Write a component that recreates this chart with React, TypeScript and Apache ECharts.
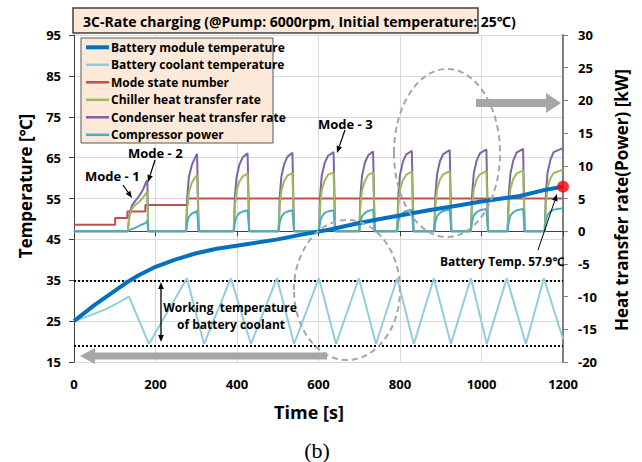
import React, { useEffect, useRef } from "react";
import * as echarts from "echarts";

// ---------- data ----------
const timeTicks = [0, 200, 400, 600, 800, 1000, 1200];
const tempTicks = [15, 25, 35, 45, 55, 65, 75, 85, 95];
const powerTicks = [-20, -15, -10, -5, 0, 5, 10, 15, 20, 25, 30];

const seriesNames = [
  "Battery module temperature",
  "Battery coolant temperature",
  "Mode state number",
  "Chiller heat transfer rate",
  "Condenser heat transfer rate",
  "Compressor power",
];
const seriesColors = ["#0070c0", "#92cddc", "#c0504d", "#9bbb59", "#8064a2", "#4bacc6"];

const batteryModuleTemp: [number, number][] = [
  [0, 25], [50, 28.9], [100, 32.4], [130, 34.5], [160, 36.3], [200, 38.3], [250, 40.1],
  [300, 41.6], [350, 42.7], [415, 43.7], [500, 45.0], [555, 46.1], [628, 47.4], [700, 49.0],
  [751, 50.0], [874, 52.2], [950, 53.4], [996, 54.2], [1050, 55.0], [1094, 55.6], [1151, 57.0],
  [1200, 57.9],
];

const coolantTemp: [number, number][] = [
  [0, 25], [40, 26.4], [80, 28.0], [110, 29.6], [135, 31.0], [184, 19.4], [277, 35.5],
  [319, 19.4], [385, 35.5], [434, 19.4], [498, 35.5], [540, 19.4], [601, 35.5], [643, 19.4],
  [699, 35.5], [741, 19.4], [793, 35.5], [834, 19.4], [883, 35.5], [925, 19.4], [974, 35.5],
  [1013, 19.4], [1062, 35.5], [1109, 19.4], [1153, 35.5], [1200, 20.7],
];

const modeState: [number, number][] = [
  [0, 1], [101, 1], [101, 2], [131, 2], [131, 3], [175, 3], [175, 4], [279, 4], [279, 5], [1200, 5],
];

const condenserRate: [number, number][] = [
  [0, 0], [132, 0], [136, 2.5], [142, 3.9], [150, 4.6], [160, 5.4], [169, 6.3], [177, 7.5], [180, 7.8], [182, 0],
  [275, 0], [278, 5.3], [282, 8.3], [289, 10.1], [297, 11.2], [302, 11.8], [306, 0],
  [392, 0], [395, 5.4], [399, 8.3], [406, 10.2], [414, 11.3], [426, 11.9], [430, 0],
  [502, 0], [505, 5.4], [509, 8.4], [516, 10.3], [524, 11.4], [536, 12.0], [540, 0],
  [601, 0], [604, 5.4], [608, 8.5], [615, 10.4], [623, 11.5], [637, 12.1], [641, 0],
  [700, 0], [703, 5.5], [707, 8.5], [714, 10.5], [722, 11.6], [734, 12.2], [738, 0],
  [793, 0], [796, 5.5], [800, 8.6], [807, 10.6], [815, 11.7], [829, 12.3], [833, 0],
  [884, 0], [887, 5.6], [891, 8.7], [898, 10.7], [906, 11.8], [922, 12.4], [926, 0],
  [974, 0], [977, 5.6], [981, 8.8], [988, 10.8], [996, 11.9], [1012, 12.5], [1016, 0],
  [1064, 0], [1067, 5.7], [1071, 8.8], [1078, 10.8], [1086, 12.0], [1102, 12.6], [1106, 0],
  [1155, 0], [1158, 5.7], [1162, 8.9], [1169, 10.9], [1177, 12.1], [1200, 12.7],
];

const chillerRate: [number, number][] = [
  [0, 0], [132, 0], [136, 2.2], [142, 3.4], [150, 4.0], [160, 4.5], [169, 5.1], [177, 5.8], [180, 6.0], [182, 0],
  [275, 0], [278, 3.9], [282, 6.0], [289, 7.4], [297, 8.2], [302, 8.6], [306, 0],
  [392, 0], [395, 4.0], [399, 6.2], [406, 7.6], [414, 8.4], [426, 8.8], [430, 0],
  [502, 0], [505, 4.0], [509, 6.2], [516, 7.7], [524, 8.5], [536, 8.9], [540, 0],
  [601, 0], [604, 4.1], [608, 6.3], [615, 7.7], [623, 8.6], [637, 9.0], [641, 0],
  [700, 0], [703, 4.1], [707, 6.3], [714, 7.7], [722, 8.6], [734, 9.0], [738, 0],
  [793, 0], [796, 4.1], [800, 6.4], [807, 7.8], [815, 8.6], [829, 9.1], [833, 0],
  [884, 0], [887, 4.1], [891, 6.4], [898, 7.9], [906, 8.7], [922, 9.2], [926, 0],
  [974, 0], [977, 4.1], [981, 6.4], [988, 7.9], [996, 8.7], [1012, 9.2], [1016, 0],
  [1064, 0], [1067, 4.2], [1071, 6.5], [1078, 8.0], [1086, 8.8], [1102, 9.3], [1106, 0],
  [1155, 0], [1158, 4.2], [1162, 6.6], [1169, 8.1], [1177, 8.9], [1200, 9.4],
];

const compressorPower: [number, number][] = [
  [0, 0], [132, 0], [140, 0.3], [150, 0.5], [160, 0.8], [170, 1.1], [177, 1.3], [180, 1.7], [182, 0],
  [275, 0], [278, 1.4], [282, 2.2], [289, 2.7], [297, 2.9], [302, 3.1], [306, 0],
  [392, 0], [395, 1.4], [399, 2.2], [406, 2.8], [414, 3.0], [426, 3.2], [430, 0],
  [502, 0], [505, 1.4], [509, 2.2], [516, 2.8], [524, 3.0], [536, 3.2], [540, 0],
  [601, 0], [604, 1.4], [608, 2.2], [615, 2.8], [623, 3.0], [637, 3.2], [641, 0],
  [700, 0], [703, 1.5], [707, 2.3], [714, 2.8], [722, 3.1], [734, 3.3], [738, 0],
  [793, 0], [796, 1.5], [800, 2.3], [807, 2.8], [815, 3.1], [829, 3.3], [833, 0],
  [884, 0], [887, 1.5], [891, 2.3], [898, 2.8], [906, 3.1], [922, 3.3], [926, 0],
  [974, 0], [977, 1.5], [981, 2.4], [988, 2.9], [996, 3.2], [1012, 3.4], [1016, 0],
  [1064, 0], [1067, 1.5], [1071, 2.4], [1078, 2.9], [1086, 3.2], [1102, 3.4], [1106, 0],
  [1155, 0], [1158, 1.6], [1162, 2.5], [1169, 3.0], [1177, 3.3], [1200, 3.5],
];

const finalBatteryTemp: [number, number][] = [[1200, 57.9]];
const coolantLimits = [35, 19];

const titleText = "3C-Rate charging (@Pump: 6000rpm, Initial temperature: 25℃)";
const batteryLabel = "Battery Temp. 57.9℃";

// ---------- helpers ----------
const FONT = "'Open Sans', 'Noto Sans', 'Noto Sans CJK KR', sans-serif";

function arrow(x1: number, y1: number, x2: number, y2: number, color = "#000", w = 1.2, head = 7, both = false) {
  const els: any[] = [];
  const ang = Math.atan2(y2 - y1, x2 - x1);
  const c = Math.cos(ang), s = Math.sin(ang);
  const hx = x2 - head * c, hy = y2 - head * s;
  const px = -s * head * 0.4, py = c * head * 0.4;
  let sx = x1, sy = y1;
  if (both) {
    const bx = x1 + head * c, by = y1 + head * s;
    els.push({ type: "polygon", z: 60, silent: true, shape: { points: [[x1, y1], [bx + px, by + py], [bx - px, by - py]] }, style: { fill: color } });
    sx = bx; sy = by;
  }
  els.push({ type: "line", z: 60, silent: true, shape: { x1: sx, y1: sy, x2: hx, y2: hy }, style: { stroke: color, lineWidth: w } });
  els.push({ type: "polygon", z: 60, silent: true, shape: { points: [[x2, y2], [hx + px, hy + py], [hx - px, hy - py]] }, style: { fill: color } });
  return els;
}

function txt(x: number, y: number, text: string, size = 12, align = "left", extra: any = {}) {
  return {
    type: "text", z: 60, silent: true, x, y, ...extra,
    style: { text, fill: "#000", font: `bold ${size}px ${FONT}`, align, verticalAlign: "middle" },
  };
}

export default function App() {
  const ref = useRef<HTMLDivElement>(null);
  useEffect(() => {
    if (!ref.current) return;
    const chart = echarts.init(ref.current, undefined, { renderer: "svg" });
    const axisLabel = { fontWeight: "bold", fontSize: 13, color: "#000", fontFamily: FONT };
    const lineBase = { type: "line", showSymbol: false, symbol: "none", animation: false };
    const seriesData = [batteryModuleTemp, coolantTemp, modeState, chillerRate, condenserRate, compressorPower];
    const axisIdx = [0, 0, 1, 1, 1, 1];
    const widths = [4, 2, 2, 2, 2, 2];
    const zs = [9, 8, 3, 5, 4, 6];

    const series: any[] = seriesNames.map((name, i) => ({
      ...lineBase,
      name,
      yAxisIndex: axisIdx[i],
      data: seriesData[i],
      z: zs[i],
      lineStyle: { color: seriesColors[i], width: widths[i] },
      itemStyle: { color: seriesColors[i] },
      ...(i === 1
        ? {
            markLine: {
              silent: true,
              symbol: ["none", "none"],
              label: { show: false },
              lineStyle: { type: [2, 2], color: "#000", width: 2 },
              data: coolantLimits.map((v) => ({ yAxis: v })),
            },
          }
        : {}),
    }));
    series.push({
      type: "scatter",
      name: "Battery Temp.",
      yAxisIndex: 0,
      data: finalBatteryTemp,
      symbolSize: 12,
      clip: false,
      z: 12,
      itemStyle: { color: "#ff0000" },
    });

    const legendEls: any[] = [
      { type: "rect", z: 50, silent: true, shape: { x: 81, y: 38, width: 192, height: 105 }, style: { fill: "#fde9d9", stroke: "#595959", lineWidth: 1 } },
    ];
    seriesNames.forEach((name, i) => {
      const y = 47.3 + 17.5 * i;
      legendEls.push({ type: "line", z: 55, silent: true, shape: { x1: 86, y1: y, x2: 109, y2: y }, style: { stroke: seriesColors[i], lineWidth: i === 0 ? 4 : 2.5 } });
      legendEls.push(txt(111, y, name, 12));
    });

    const graphic: any[] = [
      // title box
      { type: "rect", z: 50, silent: true, shape: { x: 73, y: 8, width: 405, height: 25 }, style: { fill: "#fde9d9", stroke: "#404040", lineWidth: 1.5 } },
      txt(83, 21, titleText, 14),
      ...legendEls,
      // axis titles
      txt(25, 186, "Temperature [℃]", 17, "center", { rotation: Math.PI / 2 }),
      txt(621, 200, "Heat transfer rate(Power) [kW]", 17, "center", { rotation: Math.PI / 2 }),
      txt(309, 412, "Time [s]", 18, "center"),
      {
        type: "text", z: 60, silent: true, x: 317, y: 450,
        style: { text: "(b)", fill: "#000", font: "22px 'Liberation Serif', 'DejaVu Serif', serif", align: "center", verticalAlign: "middle" },
      },
      // dashed ellipses
      { type: "ellipse", z: 40, silent: true, shape: { cx: 447, cy: 153, rx: 53, ry: 84 }, style: { fill: "none", stroke: "#a6a6a6", lineWidth: 2, lineDash: [6, 4] } },
      { type: "ellipse", z: 40, silent: true, shape: { cx: 347, cy: 290, rx: 53, ry: 70 }, style: { fill: "none", stroke: "#a6a6a6", lineWidth: 2, lineDash: [6, 4] } },
      // gray block arrows
      { type: "polygon", z: 40, silent: true, shape: { points: [[476, 99], [546, 99], [546, 93], [561, 103], [546, 113], [546, 107], [476, 107]] }, style: { fill: "#a6a6a6" } },
      { type: "polygon", z: 40, silent: true, shape: { points: [[327, 352.5], [95, 352.5], [95, 348], [80, 356], [95, 364], [95, 359.5], [327, 359.5]] }, style: { fill: "#a6a6a6" } },
      // mode annotations
      txt(85, 176, "Mode - 1", 13),
      ...arrow(123, 185, 132, 198),
      txt(128, 153, "Mode - 2", 13),
      ...arrow(155, 160, 148, 182),
      txt(318, 124, "Mode - 3", 13),
      ...arrow(345, 130, 337, 153),
      // battery temperature annotation
      txt(440, 261, batteryLabel, 12),
      ...arrow(538, 250, 557, 194, "#000", 1),
      // working temperature annotation
      ...arrow(161, 282, 161, 342, "#000", 1.3, 7, true),
      txt(230, 307, "Working  temperature", 12, "center"),
      txt(231, 324, "of battery coolant", 12, "center"),
    ];

    const option: any = {
      animation: false,
      backgroundColor: "#ffffff",
      grid: { left: 74, right: 79, top: 35, bottom: 100 },
      xAxis: {
        type: "value",
        min: timeTicks[0],
        max: timeTicks[timeTicks.length - 1],
        interval: timeTicks[1] - timeTicks[0],
        axisLine: { show: true, lineStyle: { color: "#404040", width: 1 } },
        axisTick: { show: true, length: 5, lineStyle: { color: "#404040" } },
        axisLabel: { ...axisLabel, margin: 15, formatter: (v: number) => String(v) },
        splitLine: { show: true, lineStyle: { color: "#d9d9d9", width: 1 } },
      },
      yAxis: [
        {
          type: "value",
          position: "left",
          min: tempTicks[0],
          max: tempTicks[tempTicks.length - 1],
          interval: tempTicks[1] - tempTicks[0],
          axisLine: { show: true, lineStyle: { color: "#404040", width: 1 } },
          axisTick: { show: true, length: 5, lineStyle: { color: "#404040" } },
          axisLabel: { ...axisLabel, margin: 13, formatter: (v: number) => String(v) },
          splitLine: { show: true, lineStyle: { color: "#d9d9d9", width: 1 } },
        },
        {
          type: "value",
          position: "right",
          min: powerTicks[0],
          max: powerTicks[powerTicks.length - 1],
          interval: powerTicks[1] - powerTicks[0],
          axisLine: { show: true, lineStyle: { color: "#808080", width: 2 } },
          axisTick: { show: true, length: 5, lineStyle: { color: "#808080" } },
          axisLabel: { ...axisLabel, margin: 15, formatter: (v: number) => String(v) },
          splitLine: { show: false },
        },
      ],
      series,
      graphic,
    };
    chart.setOption(option);
    return () => chart.dispose();
  }, []);

  return <div ref={ref} style={{ position: "fixed", left: 0, top: 0, width: 642, height: 462 }} />;
}
